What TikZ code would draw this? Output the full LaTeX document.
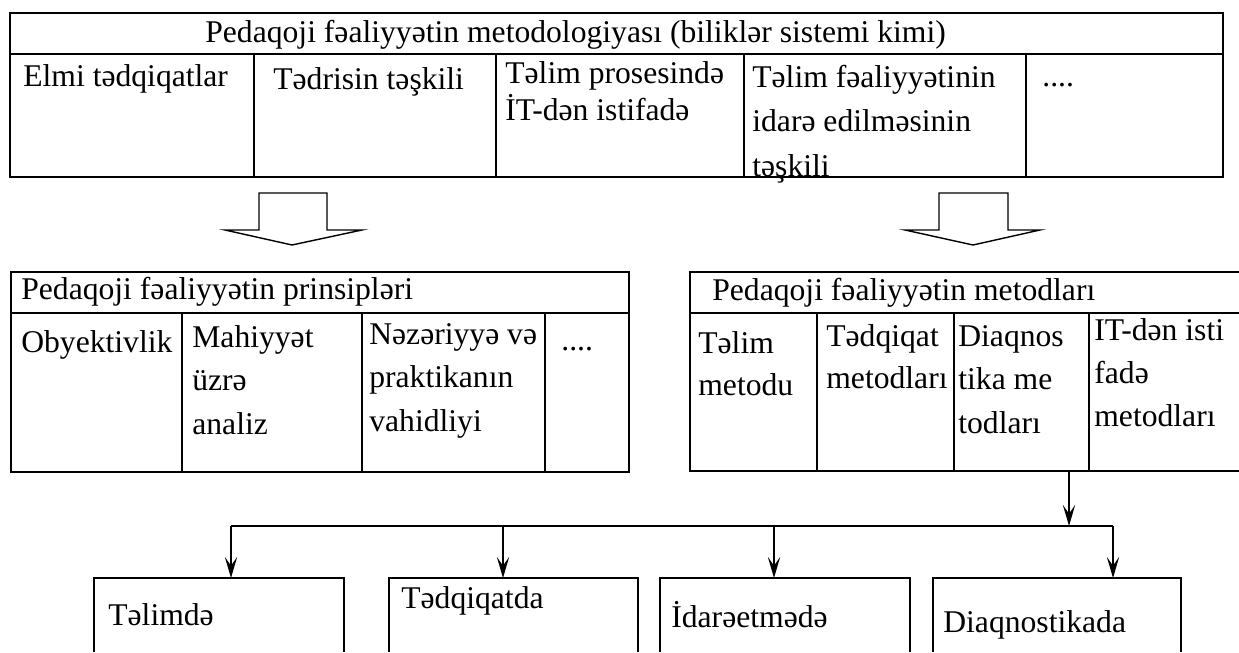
\documentclass[tikz,border=0pt]{standalone}
\usepackage{fontspec}
\setmainfont{Liberation Serif}
\usetikzlibrary{arrows.meta}
\tikzset{
  frame/.style={line width=1.6pt},
  sep/.style={line width=1.3pt},
  txt/.style={inner sep=0pt,anchor=base west,align=left,font=\fontsize{18}{23.9}\selectfont},
  hollow/.style={line width=0.8pt,fill=white},
  arr/.style={line width=1pt,-{Stealth[length=12pt,width=7pt,inset=5pt]}}
}
\begin{document}
\begin{tikzpicture}[x=0.02cm,y=-0.02cm]
\useasboundingbox (0,0) rectangle (1239,652);
% top block
\draw[frame] (10,13) rectangle (1223,177);
\draw[sep] (10,54)--(1223,54);
\foreach \c in {254,496,744,1026} \draw[sep] (\c,54)--(\c,177);
\node[txt] (metodologiya) at (205,43) {Pedaqoji fəaliyyətin metodologiyası (biliklər sistemi kimi)};
\node[txt] (elmi) at (23,87) {Elmi tədqiqatlar};
\node[txt] (tedris) at (273,90) {Tədrisin təşkili};
\node[txt] (it) at (505,120) {Təlim prosesində\\[-3pt]İT-dən istifadə};
\node[txt,font=\fontsize{18}{25.3}\selectfont] (idare) at (752,176) {Təlim fəaliyyətinin\\idarə edilməsinin\\təşkili};
\node[txt] (dots1) at (1042,87) {....};
% hollow arrows
\draw[hollow] (259,193)--(327,193)--(327,230)--(362,230)--(292,245)--(225,230)--(259,230)--cycle;
\draw[hollow] (939,193)--(1008,193)--(1008,230)--(1040,230)--(973,245)--(905,230)--(939,230)--cycle;
% principles
\draw[frame] (11,272) rectangle (629,472);
\draw[sep] (11,313)--(629,313);
\foreach \c in {182,362,545} \draw[sep] (\c,313)--(\c,472);
\node[txt] (prinsip) at (21,299) {Pedaqoji fəaliyyətin prinsipləri};
\node[txt] (obyekt) at (21,352) {Obyektivlik};
\node[txt,font=\fontsize{18}{24.6}\selectfont] (mahiyyet) at (192,434) {Mahiyyət\\üzrə\\analiz};
\node[txt,font=\fontsize{18}{24.6}\selectfont] (nezeriyye) at (369,431) {Nəzəriyyə və\\praktikanın\\vahidliyi};
\node[txt] (dots2) at (561,350) {....};
% methods
\draw[frame] (1239,272)--(690,272)--(690,471)--(1239,471);
\draw[sep] (690,313)--(1239,313);
\foreach \c in {817,954,1089} \draw[sep] (\c,313)--(\c,471);
\node[txt] (metodlar) at (712,300) {Pedaqoji fəaliyyətin metodları};
\node[txt] (telim) at (698,395) {Təlim\\metodu};
\node[txt] (tedqiqat) at (826,388) {Tədqiqat\\metodları};
\node[txt,font=\fontsize{18}{24.6}\selectfont] (diaqnos) at (958,433) {Diaqnos\\tika me\\todları};
\node[txt,font=\fontsize{18}{24.4}\selectfont] (itm) at (1094,426) {IT-dən isti\\fadə\\metodları};
% application areas
\foreach \a/\b in {94/344,389/638,660/910,933/1181}
  \draw[frame] (\a,652)--(\a,578)--(\b,578)--(\b,652);
\node[txt] (telimde) at (108,625) {Təlimdə};
\node[txt] (tedqiqatda) at (401,608) {Tədqiqatda};
\node[txt] (idareetmede) at (671,627) {İdarəetmədə};
\node[txt] (diaqnostikada) at (943,632) {Diaqnostikada};
% connectors
\coordinate (mbot) at (1069,471);
\coordinate (join) at (1069,526);
\coordinate (busl) at (231,526);
\coordinate (busr) at (1113,526);
\coordinate (t1) at (231,578);
\coordinate (t2) at (503,578);
\coordinate (t3) at (774,578);
\coordinate (t4) at (1113,578);
\draw[arr] (mbot)--(join);
\draw[line width=1.4pt] (busl)--(busr);
\draw[arr] (busl)--(t1);
\draw[arr] (t2 |- busl)--(t2);
\draw[arr] (t3 |- busl)--(t3);
\draw[arr] (busr)--(t4);
\end{tikzpicture}
\end{document}
